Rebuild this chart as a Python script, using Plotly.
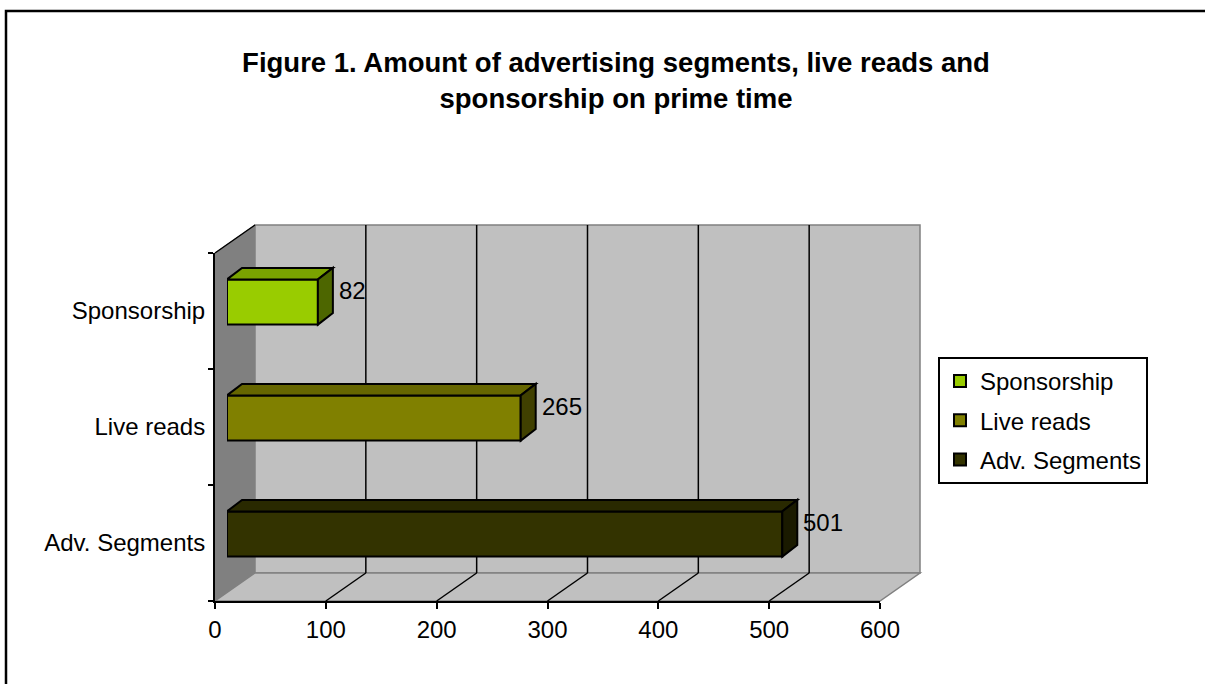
import plotly.graph_objects as go

# ---- data ----
categories = ["Adv. Segments", "Live reads", "Sponsorship"]
values = [501, 265, 82]
front_colors = ["#333300", "#808000", "#99CC00"]
top_colors = ["#292900", "#666600", "#7AA300"]
side_colors = ["#1A1A00", "#404000", "#4D6600"]
x_ticks = [0, 100, 200, 300, 400, 500, 600]
title_text = "Figure 1. Amount of advertising segments, live reads and<br>sponsorship on prime time"

W, H = 1205, 684
# plot (paper) area in pixels
PL, PR, PT, PB = 215, 920, 225, 601
PW, PH = PR - PL, PB - PT
# front plane
FX0, FX1, FY0, FY1 = 215, 880, 601, 253
XMAX = 600
SX = (FX1 - FX0) / XMAX
DX, DY = 40, 28          # wall depth offset in px
BOX, BOY = 12, 9         # bar front-face offset in px
BDX, BDY = 15, 11.5      # bar depth in px
BAR_W = 0.39


def fx(p):
    return (p - PL) / PW


def fy(p):
    return (PB - p) / PH


FONT = "Liberation Sans, Arial, sans-serif"
fig = go.Figure()

# invisible trace so the front (labelled) axes are drawn
fig.add_trace(go.Scatter(x=[None], y=[None], xaxis="x", yaxis="y",
                         showlegend=False, hoverinfo="skip"))

for i in reversed(range(len(categories))):
    c, v = categories[i], values[i]
    fig.add_trace(go.Bar(
        x=[v], y=[i], orientation="h", width=BAR_W, name=c,
        marker=dict(color=front_colors[i], line=dict(color="black", width=2)),
        xaxis="x2", yaxis="y2", legendgroup=c, hoverinfo="x+name",
    ))

shapes = []
# walls
shapes.append(dict(type="path", xref="paper", yref="paper", layer="below",
                   path=f"M{fx(FX0)},{fy(FY1)} L{fx(FX0+DX)},{fy(FY1-DY)} L{fx(FX0+DX)},{fy(FY0-DY)} L{fx(FX0)},{fy(FY0)} Z",
                   fillcolor="#808080", line=dict(color="#808080", width=1)))
shapes.append(dict(type="rect", xref="paper", yref="paper", layer="below",
                   x0=fx(FX0+DX), x1=fx(FX1+DX), y0=fy(FY0-DY), y1=fy(FY1-DY),
                   fillcolor="#C0C0C0", line=dict(color="#808080", width=1.5)))
shapes.append(dict(type="path", xref="paper", yref="paper", layer="below",
                   path=f"M{fx(FX0)},{fy(FY0)} L{fx(FX1)},{fy(FY0)} L{fx(FX1+DX)},{fy(FY0-DY)} L{fx(FX0+DX)},{fy(FY0-DY)} Z",
                   fillcolor="#C0C0C0", line=dict(color="#808080", width=1.5)))
for t in x_ticks[1:-1]:
    px = FX0 + t * SX
    shapes.append(dict(type="line", xref="paper", yref="paper", layer="below",
                       x0=fx(px+DX), x1=fx(px+DX), y0=fy(FY0-DY), y1=fy(FY1-DY),
                       line=dict(color="black", width=1.5)))
    shapes.append(dict(type="line", xref="paper", yref="paper", layer="below",
                       x0=fx(px), x1=fx(px+DX), y0=fy(FY0), y1=fy(FY0-DY),
                       line=dict(color="black", width=1.5)))
shapes.append(dict(type="line", xref="paper", yref="paper", layer="below",
                   x0=fx(FX0), x1=fx(FX0+DX), y0=fy(FY1), y1=fy(FY1-DY),
                   line=dict(color="black", width=1.5)))
# outer frame
shapes.append(dict(type="rect", xref="paper", yref="paper",
                   x0=fx(6), x1=fx(1230), y0=fy(11), y1=fy(720),
                   fillcolor="rgba(0,0,0,0)", line=dict(color="black", width=2.5)))

# bar 3D faces (in bar axes units)
ux = BDX / SX
uy = BDY * 3 / (FY0 - FY1)
h = BAR_W / 2
annotations = []
for i, v in enumerate(values):
    shapes.append(dict(type="path", xref="x2", yref="y2",
                       path=f"M0,{i+h} L{ux},{i+h+uy} L{v+ux},{i+h+uy} L{v},{i+h} Z",
                       fillcolor=top_colors[i], line=dict(color="black", width=2)))
    shapes.append(dict(type="path", xref="x2", yref="y2",
                       path=f"M{v},{i-h} L{v+ux},{i-h+uy} L{v+ux},{i+h+uy} L{v},{i+h} Z",
                       fillcolor=side_colors[i], line=dict(color="black", width=2)))
    annotations.append(dict(xref="x2", yref="y2", x=v + ux, y=i + uy, text=str(v),
                            showarrow=False, xanchor="left", yanchor="middle", xshift=4,
                            font=dict(family=FONT, size=24, color="black")))

fig.update_layout(
    width=W, height=H,
    margin=dict(l=PL, r=W - PR, t=PT, b=H - PB, autoexpand=False),
    paper_bgcolor="white", plot_bgcolor="rgba(0,0,0,0)",
    font=dict(family=FONT, size=24, color="black"),
    title=dict(text=f"<b>{title_text}</b>", x=616 / W, xanchor="center", xref="container",
               y=1 - 72 / H, yanchor="middle", yref="container",
               font=dict(family=FONT, size=27.5, color="black")),
    barmode="overlay",
    showlegend=True,
    legend=dict(x=fx(938), y=fy(357), xanchor="left", yanchor="top",
                traceorder="grouped", tracegroupgap=5,
                bordercolor="black", borderwidth=2, bgcolor="white",
                font=dict(family=FONT, size=24, color="black")),
    xaxis=dict(domain=[0, (FX1 - FX0) / PW], range=[0, XMAX], tickvals=x_ticks,
               ticks="outside", ticklen=6, tickcolor="black", tickwidth=1.5,
               showline=True, linecolor="black", linewidth=2, showgrid=False,
               zeroline=False, anchor="y", fixedrange=True),
    yaxis=dict(domain=[0, (FY0 - FY1) / PH], range=[-0.5, 2.5], tickvals=[0, 1, 2],
               ticktext=categories, ticks="", showline=True, linecolor="black",
               linewidth=2, showgrid=False, zeroline=False, anchor="x",
               ticklabelstandoff=3,
               minor=dict(tickvals=[-0.5, 0.5, 1.5, 2.5], ticks="outside", ticklen=5,
                          tickcolor="black", tickwidth=1.5, showgrid=False),
               fixedrange=True),
    xaxis2=dict(domain=[BOX / PW, (BOX + FX1 - FX0) / PW], range=[0, XMAX], visible=False,
                anchor="y2", fixedrange=True),
    yaxis2=dict(domain=[BOY / PH, (BOY + FY0 - FY1) / PH], range=[-0.5, 2.5], visible=False,
                anchor="x2", fixedrange=True),
    shapes=shapes,
    annotations=annotations,
)

fig.write_html("out.html", config={"displayModeBar": False},
               post_script="document.body.style.margin='0';")
